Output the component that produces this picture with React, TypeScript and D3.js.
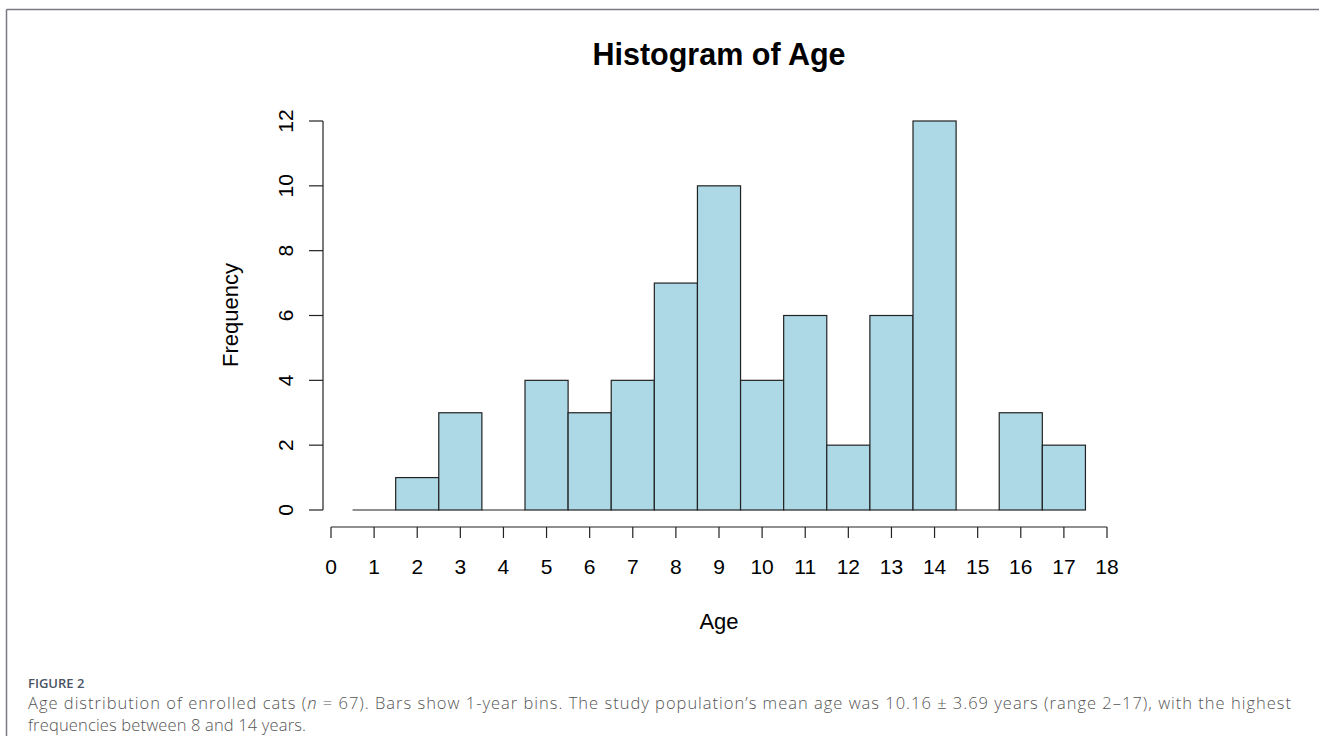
import React from "react";
import * as d3 from "d3";

const ages = [1, 2, 3, 4, 5, 6, 7, 8, 9, 10, 11, 12, 13, 14, 15, 16, 17];
const counts = [0, 1, 3, 0, 4, 3, 4, 7, 10, 4, 6, 2, 6, 12, 0, 3, 2];
const xTicks = d3.range(0, 19);
const yTicks = [0, 2, 4, 6, 8, 10, 12];
const title = "Histogram of Age";
const xLabel = "Age";
const yLabel = "Frequency";
const figLabel = "FIGURE 2";
const captionLine1a = "Age distribution of enrolled cats (";
const captionLine1b = "n";
const captionLine1c = " = 67). Bars show 1-year bins. The study population\u2019s mean age was 10.16 \u00b1 3.69 years (range 2\u201317), with the highest";
const captionLine2 = "frequencies between 8 and 14 years.";

const W = 1319;
const H = 736;

export default function App() {
  const x = d3.scaleLinear().domain([0, 18]).range([331, 1107]);
  const y = d3.scaleLinear().domain([0, 12]).range([510, 121]);
  const font = "'Liberation Sans', Arial, sans-serif";
  const capFont = "'Open Sans', 'Noto Sans', sans-serif";
  const yAxisX = 323;
  const xAxisY = 527;

  return (
    <div style={{ position: "absolute", left: 0, top: 0 }}>
      <svg width={W} height={H} style={{ display: "block", background: "#fff" }}>
        {/* frame */}
        <line x1={6.5} y1={9.5} x2={W} y2={9.5} stroke="#7a7a80" strokeWidth={1.5} />
        <line x1={6.5} y1={9.5} x2={6.5} y2={H} stroke="#7a7a80" strokeWidth={1.5} />

        {/* title */}
        <text x={719} y={65} textAnchor="middle" fontFamily={font} fontWeight="bold" fontSize={30.5} fill="#000">
          {title}
        </text>

        {/* bars */}
        {ages.map((a, i) =>
          counts[i] > 0 ? (
            <rect
              key={a}
              x={x(a - 0.5)}
              y={y(counts[i])}
              width={x(a + 0.5) - x(a - 0.5)}
              height={y(0) - y(counts[i])}
              fill="#ADD8E6"
              stroke="#222"
              strokeWidth={1.2}
            />
          ) : (
            <line
              key={a}
              x1={x(a - 0.5)}
              x2={x(a + 0.5)}
              y1={y(0)}
              y2={y(0)}
              stroke="#222"
              strokeWidth={1.2}
            />
          )
        )}

        {/* y axis */}
        <line x1={yAxisX} x2={yAxisX} y1={y(0)} y2={y(12)} stroke="#222" strokeWidth={1.2} />
        {yTicks.map((t) => (
          <g key={t}>
            <line x1={yAxisX - 14} x2={yAxisX} y1={y(t)} y2={y(t)} stroke="#222" strokeWidth={1.2} />
            <text
              transform={`translate(${293},${y(t)}) rotate(-90)`}
              textAnchor="middle"
              fontFamily={font}
              fontSize={21}
              fill="#000"
            >
              {t}
            </text>
          </g>
        ))}

        {/* x axis */}
        <line x1={x(0)} x2={x(18)} y1={xAxisY} y2={xAxisY} stroke="#222" strokeWidth={1.2} />
        {xTicks.map((t) => (
          <g key={t}>
            <line x1={x(t)} x2={x(t)} y1={xAxisY} y2={xAxisY + 11} stroke="#222" strokeWidth={1.2} />
            <text x={x(t)} y={574} textAnchor="middle" fontFamily={font} fontSize={21} fill="#000">
              {t}
            </text>
          </g>
        ))}

        {/* axis labels */}
        <text x={719} y={629} textAnchor="middle" fontFamily={font} fontSize={22} fill="#000">
          {xLabel}
        </text>
        <text
          transform={`translate(${238},${315}) rotate(-90)`}
          textAnchor="middle"
          fontFamily={font}
          fontSize={22}
          fill="#000"
        >
          {yLabel}
        </text>

        {/* caption */}
        <text x={28} y={688} fontFamily={capFont} fontSize={13} fontWeight={600} fill="#4a5563">
          {figLabel}
        </text>
        <text
          x={28}
          y={709}
          fontFamily={capFont}
          fontSize={16.5}
          fontWeight={300}
          fill="#555"
          textLength={1263}
          lengthAdjust="spacing"
        >
          {captionLine1a}
          <tspan fontStyle="italic">{captionLine1b}</tspan>
          {captionLine1c}
        </text>
        <text
          x={28}
          y={731}
          fontFamily={capFont}
          fontSize={16.5}
          fontWeight={300}
          fill="#555"
          textLength={278}
          lengthAdjust="spacing"
        >
          {captionLine2}
        </text>
      </svg>
    </div>
  );
}
